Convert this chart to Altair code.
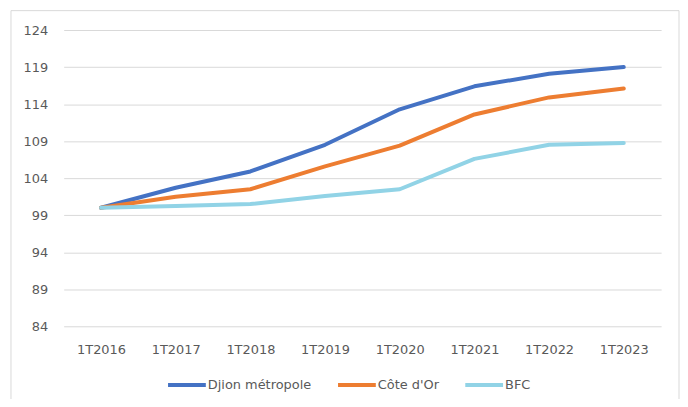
import altair as alt
import pandas as pd

periods = ["1T2016", "1T2017", "1T2018", "1T2019", "1T2020", "1T2021", "1T2022", "1T2023"]
series_names = ["Djion métropole", "Côte d'Or", "BFC"]
djion = [100.0, 102.7, 104.9, 108.5, 113.3, 116.4, 118.1, 119.0]
cote_dor = [100.0, 101.5, 102.5, 105.6, 108.4, 112.6, 114.9, 116.1]
bfc = [100.0, 100.25, 100.5, 101.6, 102.5, 106.6, 108.5, 108.75]
y_ticks = [84, 89, 94, 99, 104, 109, 114, 119, 124]
colors = ["#4472C4", "#ED7D31", "#91D3E6"]

rows = []
for name, vals in zip(series_names, [djion, cote_dor, bfc]):
    for p, v in zip(periods, vals):
        rows.append({"periode": p, "serie": name, "valeur": v})
df = pd.DataFrame(rows)

FONT = "DejaVu Sans"
LABEL = "#595959"

lines = alt.Chart(df).mark_line(strokeWidth=4, strokeCap="round", strokeJoin="round").encode(
    x=alt.X("periode:O", sort=periods, scale=alt.Scale(type="point", padding=0.5),
            axis=alt.Axis(title=None, labelAngle=0, domain=False, ticks=False, grid=False,
                          labelPadding=17, labelFontSize=13, labelColor=LABEL, labelFont=FONT)),
    y=alt.Y("valeur:Q", scale=alt.Scale(domain=[84, 124], nice=False, zero=False),
            axis=alt.Axis(title=None, values=y_ticks, domain=False, ticks=False,
                          gridColor="#D9D9D9", gridWidth=1, labelPadding=16,
                          labelFontSize=13, labelColor=LABEL, labelFont=FONT)),
    color=alt.Color("serie:N", sort=series_names,
                    scale=alt.Scale(domain=series_names, range=colors),
                    legend=alt.Legend(title=None, orient="none", direction="horizontal",
                                      legendX=103, legendY=336, symbolType="stroke",
                                      symbolSize=1444, symbolStrokeWidth=4,
                                      labelFontSize=13, labelColor=LABEL, labelFont=FONT,
                                      labelOffset=0, columnPadding=18, padding=0)),
)

frame = alt.Chart(pd.DataFrame({"a": [0]})).mark_rect(
    fill=None, stroke="#D9D9D9", strokeWidth=1
).encode(
    x=alt.value(-53), x2=alt.value(619), y=alt.value(-19.5), y2=alt.value(400)
)

chart = alt.layer(frame, lines).properties(
    width=601, height=298,
    autosize=alt.AutoSizeParams(type="none"),
    padding={"left": 56, "top": 21, "right": 19, "bottom": 72},
    background="white",
).configure_view(stroke=None)

chart.save("out.html", embed_options={"renderer": "svg", "actions": False})
